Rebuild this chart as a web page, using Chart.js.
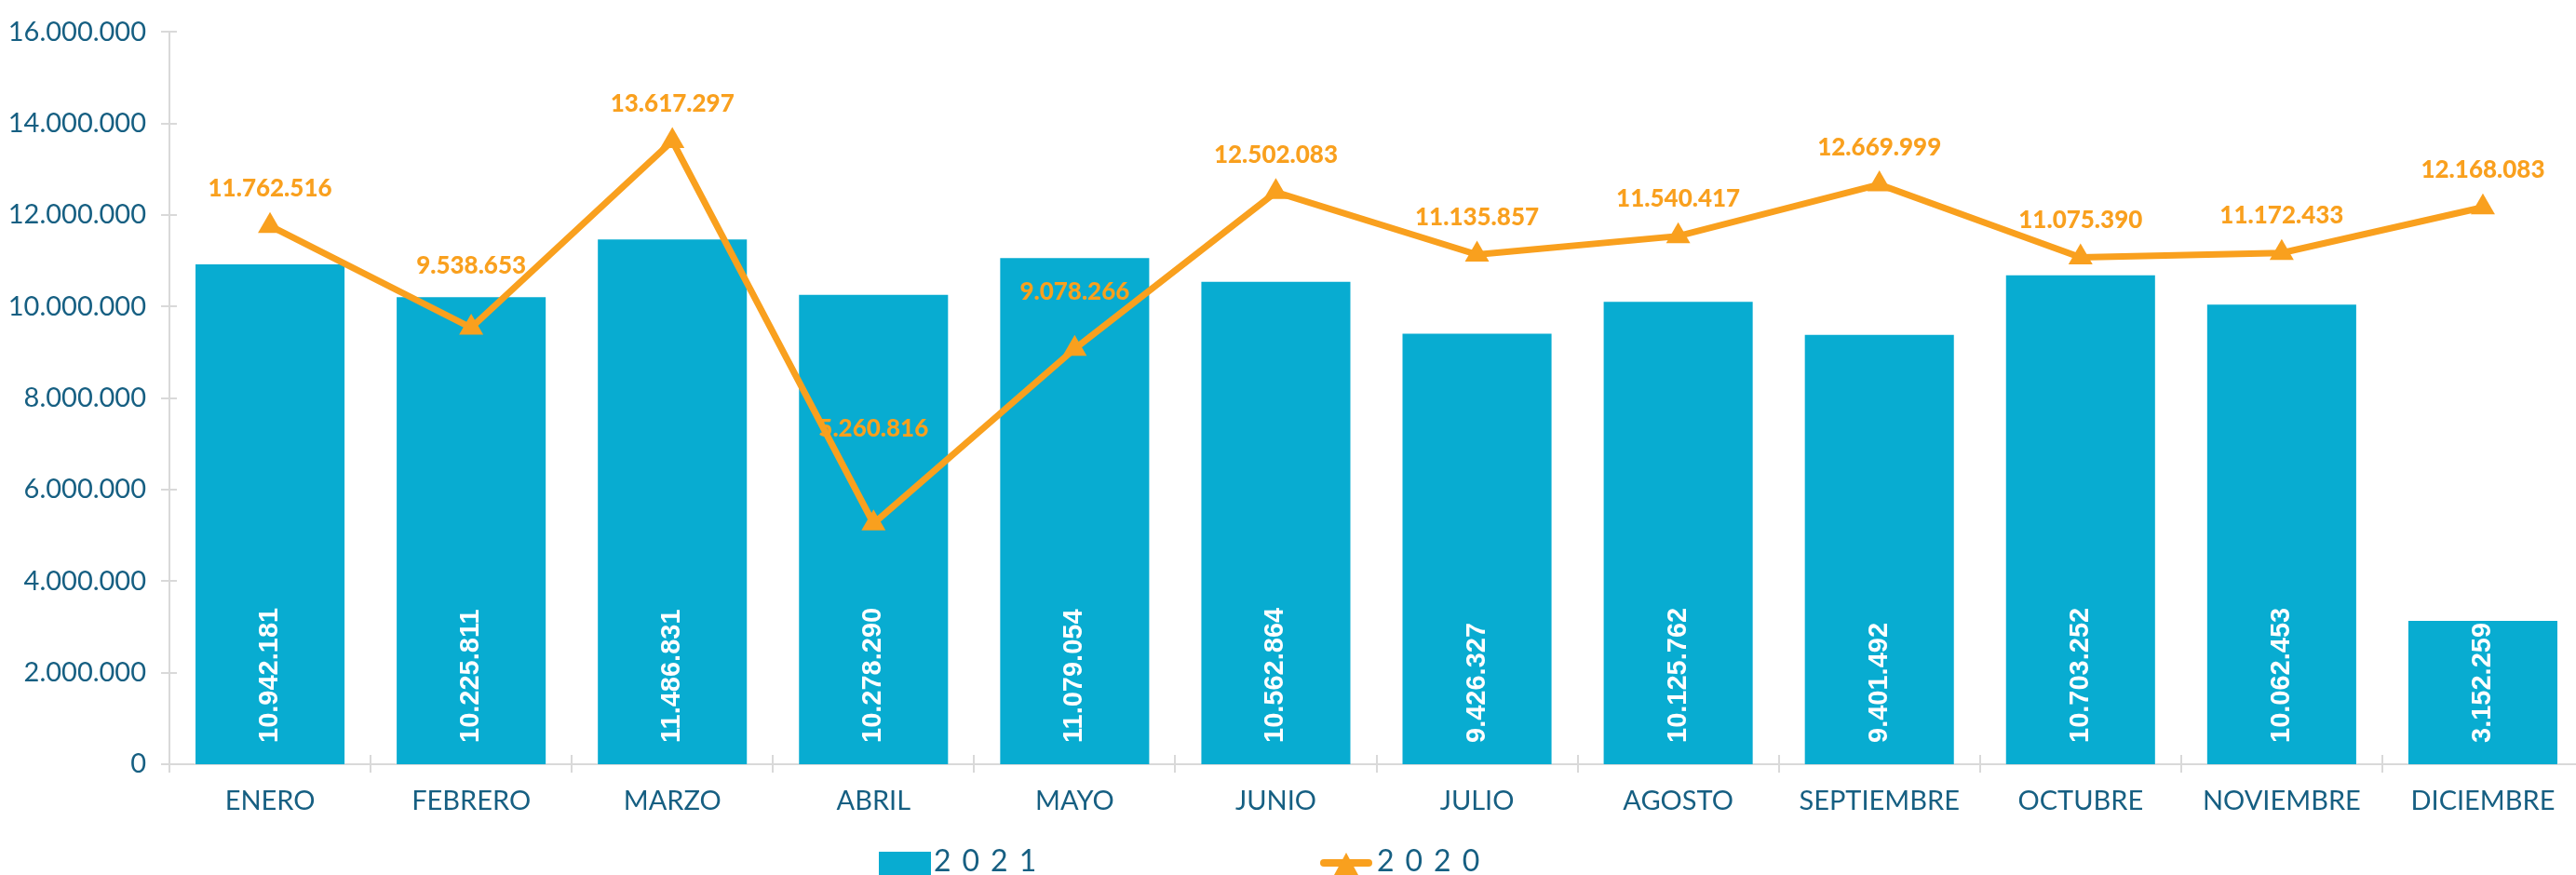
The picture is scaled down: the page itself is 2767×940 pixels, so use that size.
<!DOCTYPE html>
<html lang="es">
<head>
<meta charset="utf-8">
<title>Ventas mensuales 2021 vs 2020</title>
<script src="https://cdn.jsdelivr.net/npm/chart.js"></script>
<style>
  html, body { margin: 0; padding: 0; background: #fff; overflow: hidden; }
  #wrap { position: relative; width: 2790px; height: 960px; }
  .leyenda-texto {
    position: absolute;
    font-family: Lato, "Open Sans", sans-serif;
    font-size: 32px;
    letter-spacing: 12px;
    color: #165f82;
    line-height: 1;
  }
</style>
</head>
<body>
<div id="wrap">
  <canvas id="grafico" width="2790" height="960"></canvas>
  <!-- leyenda propia (el original tiene mucho espacio entre elementos) -->
  <div style="position:absolute;left:944px;top:915px;width:56px;height:32px;background:#08acd1;"></div>
  <div class="leyenda-texto" style="left:1003px;top:908px;">2021</div>
  <div style="position:absolute;left:1418px;top:923px;width:56px;height:8px;border-radius:4px;background:#f9a01e;"></div>
  <div style="position:absolute;left:1433px;top:916px;width:26px;height:24px;background:#f9a01e;clip-path:polygon(50% 0,100% 100%,0 100%);"></div>
  <div class="leyenda-texto" style="left:1479px;top:908px;">2020</div>
</div>
<script>
// datos
const meses = ['ENERO', 'FEBRERO', 'MARZO', 'ABRIL', 'MAYO', 'JUNIO', 'JULIO', 'AGOSTO', 'SEPTIEMBRE', 'OCTUBRE', 'NOVIEMBRE', 'DICIEMBRE'];
const valores2021 = [10942181, 10225811, 11486831, 10278290, 11079054, 10562864, 9426327, 10125762, 9401492, 10703252, 10062453, 3152259];
const valores2020 = [11762516, 9538653, 13617297, 5260816, 9078266, 12502083, 11135857, 11540417, 12669999, 11075390, 11172433, 12168083];
const ejeYMax = 16000000;
const ejeYPaso = 2000000;

// separación de las etiquetas de la línea respecto al punto (px)
const desplazEtiqueta = [40, 66, 40, 102, 61, 40, 40, 40, 40, 40, 40, 40];

const AZUL = '#08acd1';
const NARANJA = '#f9a01e';
const TEXTO = '#165f82';
const GRIS = '#d9d9d9';

// formato con puntos de miles
function formatoMiles(n) {
  return String(Math.round(n)).replace(/\B(?=(\d{3})+(?!\d))/g, '.');
}

// etiquetas blancas verticales dentro de las barras (dataset 1)
const etiquetasBarras = {
  id: 'etiquetasBarras',
  afterDatasetsDraw(chart) {
    const ctx = chart.ctx;
    const meta = chart.getDatasetMeta(1);
    ctx.save();
    ctx.fillStyle = '#ffffff';
    ctx.font = 'bold 29px "Liberation Sans", Arial, sans-serif';
    ctx.textAlign = 'left';
    ctx.textBaseline = 'middle';
    meta.data.forEach((bar, i) => {
      ctx.save();
      ctx.translate(bar.x, bar.base - 23);
      ctx.rotate(-Math.PI / 2);
      ctx.fillText(formatoMiles(valores2021[i]), 0, 0);
      ctx.restore();
    });
    ctx.restore();
  }
};

// etiquetas naranjas sobre los puntos de 2020 (dataset 0)
const etiquetasLinea = {
  id: 'etiquetasLinea',
  afterDatasetsDraw(chart) {
    const ctx = chart.ctx;
    const meta = chart.getDatasetMeta(0);
    ctx.save();
    ctx.fillStyle = NARANJA;
    ctx.font = '900 26px Lato, "Open Sans", sans-serif';
    ctx.textAlign = 'center';
    ctx.textBaseline = 'middle';
    meta.data.forEach((pt, i) => {
      ctx.fillText(formatoMiles(valores2020[i]), pt.x, pt.y - desplazEtiqueta[i]);
    });
    ctx.restore();
  }
};

// marcas de los ejes (cruzan la línea del eje)
const marcasEjes = {
  id: 'marcasEjes',
  afterDraw(chart) {
    const ctx = chart.ctx;
    const x = chart.scales.x;
    const y = chart.scales.y;
    ctx.save();
    ctx.strokeStyle = GRIS;
    ctx.lineWidth = 2;
    ctx.beginPath();
    y.ticks.forEach(t => {
      const py = Math.round(y.getPixelForValue(t.value));
      ctx.moveTo(x.left - 9, py);
      ctx.lineTo(x.left + 8, py);
    });
    for (let i = 0; i <= meses.length; i++) {
      const px = Math.round(x.getPixelForValue(i - 0.5));
      ctx.moveTo(px, y.bottom - 10);
      ctx.lineTo(px, y.bottom + 9);
    }
    ctx.stroke();
    ctx.restore();
  }
};

new Chart(document.getElementById('grafico'), {
  data: {
    labels: meses,
    datasets: [
      {
        type: 'line',
        label: '2020',
        data: valores2020,
        borderColor: NARANJA,
        backgroundColor: NARANJA,
        borderWidth: 7,
        pointStyle: 'triangle',
        pointRadius: 15,
        pointBorderWidth: 0,
        pointBackgroundColor: NARANJA,
        tension: 0,
        order: 0
      },
      {
        type: 'bar',
        label: '2021',
        data: valores2021,
        backgroundColor: AZUL,
        borderColor: 'rgba(255,255,255,0.35)',
        borderWidth: 1,
        barPercentage: 0.75,
        categoryPercentage: 1,
        order: 1
      }
    ]
  },
  options: {
    responsive: false,
    animation: false,
    devicePixelRatio: 1,
    layout: { padding: { top: 31, right: 0, bottom: 0, left: 0 } },
    plugins: {
      legend: { display: false },
      tooltip: { enabled: false }
    },
    scales: {
      x: {
        offset: true,
        grid: { display: false, offset: true, tickLength: 8 },
        border: { display: true, color: GRIS, width: 2 },
        ticks: {
          autoSkip: false,
          maxRotation: 0,
          padding: 14,
          color: TEXTO,
          font: { family: 'Lato, "Open Sans", sans-serif', size: 29 }
        },
        afterFit(scale) { scale.height = 139; }
      },
      y: {
        min: 0,
        max: ejeYMax,
        grid: { display: false, tickLength: 8 },
        border: { display: true, color: GRIS, width: 2 },
        ticks: {
          stepSize: ejeYPaso,
          padding: 17,
          color: TEXTO,
          font: { family: 'Lato, "Open Sans", sans-serif', size: 29 },
          callback: v => formatoMiles(v)
        },
        afterFit(scale) { scale.width = 182; }
      }
    }
  },
  plugins: [etiquetasBarras, etiquetasLinea, marcasEjes]
});
</script>
</body>
</html>
